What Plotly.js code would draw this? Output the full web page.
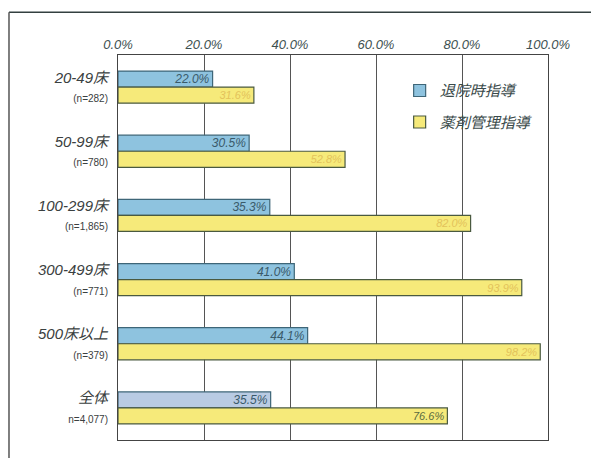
<!DOCTYPE html>
<html><head><meta charset="utf-8">
<script src="https://cdn.plot.ly/plotly-3.0.1.min.js"></script>
<style>html,body{margin:0;padding:0;background:#fff;}#c{width:591px;height:458px;}</style>
</head><body><div id="c"></div>
<script>
const categories = ["20-49床", "50-99床", "100-299床", "300-499床", "500床以上", "全体"];
const sampleSizes = ["(n=282)", "(n=780)", "(n=1,865)", "(n=771)", "(n=379)", "n=4,077)"];
const dischargeGuidance = [22.0, 30.5, 35.3, 41.0, 44.1, 35.5];
const medicationGuidance = [31.6, 52.8, 82.0, 93.9, 98.2, 76.6];
const seriesNames = ["退院時指導", "薬剤管理指導"];
const xTicks = [0, 20, 40, 60, 80, 100];

const fam = "'Liberation Sans', 'Noto Sans CJK JP', sans-serif";
const tickText = categories.map((c, i) => c + '<br><span style="font-size:10px;font-style:normal">' + sampleSizes[i] + '</span>');

const blueFill = categories.map((c, i) => i === categories.length - 1 ? '#b9cbe3' : '#8ec3df');
const yellowText = categories.map((c, i) => i === categories.length - 1 ? '#5a6a40' : '#e3c25a');

const traces = [
  {
    type: 'bar', orientation: 'h', name: seriesNames[0], legendgroup: 'a',
    y: categories, x: dischargeGuidance,
    text: dischargeGuidance.map(v => v.toFixed(1) + '%'),
    textposition: 'inside', insidetextanchor: 'end', constraintext: 'none',
    textfont: {family: fam, size: 12, style: 'italic', color: '#3a5a6a'},
    marker: {color: blueFill, line: {color: '#3e6678', width: 1.2}}
  },
  {
    type: 'bar', orientation: 'h', name: seriesNames[1], legendgroup: 'b',
    y: categories, x: medicationGuidance,
    text: medicationGuidance.map(v => v.toFixed(1) + '%'),
    textposition: 'inside', insidetextanchor: 'end', constraintext: 'none',
    textfont: {family: fam, size: 11, style: 'italic', color: yellowText},
    marker: {color: '#f6ea7a', line: {color: '#4a5a40', width: 1.2}}
  }
];

const layout = {
  width: 591, height: 458,
  margin: {l: 118, r: 43, t: 55, b: 18},
  paper_bgcolor: '#ffffff', plot_bgcolor: '#ffffff',
  barmode: 'group', bargap: 0.5, bargroupgap: 0,
  showlegend: true,
  legend: {x: 0.655, y: 0.95, xanchor: 'left', yanchor: 'top', bgcolor: 'rgba(0,0,0,0)',
           font: {family: fam, size: 15, style: 'italic', color: '#3a4a4a'}, tracegroupgap: 9,
           itemwidth: 30},
  xaxis: {
    side: 'top', range: [0, 100], tickvals: xTicks,
    ticktext: xTicks.map(v => v.toFixed(1) + '%'),
    tickfont: {family: fam, size: 13, style: 'italic', color: '#3d5050'},
    showgrid: true, gridcolor: '#555', gridwidth: 1,
    showline: true, linecolor: '#444', linewidth: 1, mirror: true,
    zeroline: false, ticks: '', fixedrange: true
  },
  yaxis: {
    autorange: 'reversed', type: 'category',
    tickvals: categories, ticktext: tickText,
    tickfont: {family: fam, size: 15, style: 'italic', color: '#3a4040'},
    showline: true, linecolor: '#444', linewidth: 1, mirror: true,
    showgrid: false, ticks: '', ticklabelstandoff: 6
  },
  shapes: [
    {type: 'line', xref: 'paper', yref: 'paper', x0: -0.2535, x1: 1.12, y0: 1.111, y1: 1.111,
     line: {color: '#334040', width: 1.5}},
    {type: 'line', xref: 'paper', yref: 'paper', x0: -0.2535, x1: -0.2535, y0: 1.111, y1: -0.07,
     line: {color: '#555', width: 1.5}}
  ]
};

Plotly.newPlot('c', traces, layout, {displayModeBar: false, staticPlot: true});
</script></body></html>
